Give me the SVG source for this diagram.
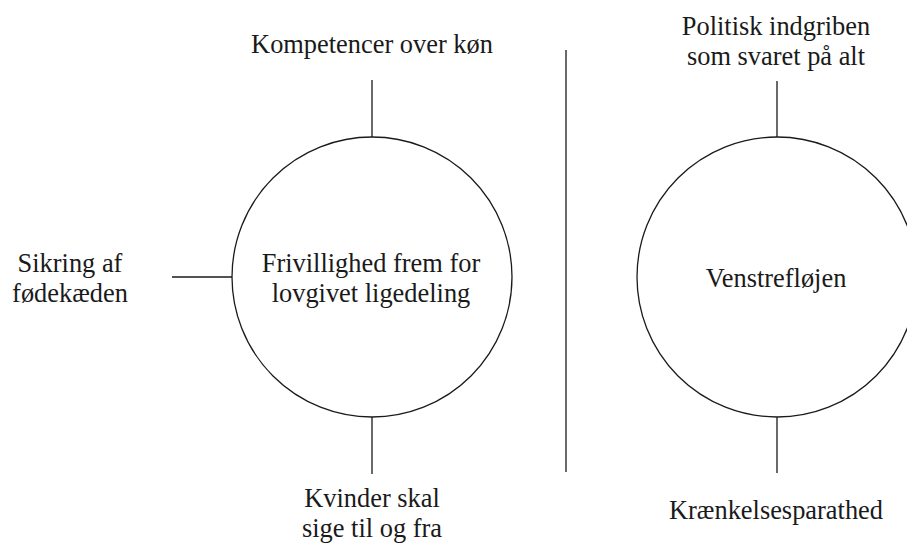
<svg xmlns="http://www.w3.org/2000/svg" width="907" height="543" viewBox="0 0 907 543">
  <style>
    .bg { fill: #ffffff; }
    .node { fill: #ffffff; stroke: #1a1a1a; stroke-width: 1.3; }
    .link { stroke: #1a1a1a; stroke-width: 1.3; fill: none; }
    text { font-family: "Liberation Serif", "Times New Roman", serif; font-size: 26.4px; fill: #1a1a1a; text-anchor: middle; }
  </style>
  <rect class="bg" x="0" y="0" width="907" height="543"/>

  <!-- connectors -->
  <g id="connectors">
    <line class="link" x1="372" y1="80" x2="372" y2="137"/>
    <line class="link" x1="172" y1="277" x2="232" y2="277"/>
    <line class="link" x1="372" y1="417" x2="372" y2="474"/>
    <line class="link" x1="777" y1="81" x2="777" y2="137"/>
    <line class="link" x1="777" y1="417" x2="777" y2="473"/>
    <line class="link" x1="566" y1="50" x2="566" y2="472"/>
  </g>

  <!-- left cluster -->
  <g id="frivillighed">
    <circle class="node" cx="372" cy="277" r="140"/>
    <text x="371" y="272">Frivillighed frem for</text>
    <text x="371" y="302">lovgivet ligedeling</text>
  </g>
  <g id="kompetencer">
    <text x="372" y="53">Kompetencer over køn</text>
  </g>
  <g id="sikring">
    <text x="70" y="272">Sikring af</text>
    <text x="70" y="302">fødekæden</text>
  </g>
  <g id="kvinder">
    <text x="372" y="507">Kvinder skal</text>
    <text x="372" y="537">sige til og fra</text>
  </g>

  <!-- right cluster -->
  <g id="venstrefloejen">
    <circle class="node" cx="777" cy="277" r="140"/>
    <text x="776" y="287">Venstrefløjen</text>
  </g>
  <g id="politisk">
    <text x="776" y="35">Politisk indgriben</text>
    <text x="776" y="65">som svaret på alt</text>
  </g>
  <g id="kraenkelse">
    <text x="776" y="519">Krænkelsesparathed</text>
  </g>
</svg>
